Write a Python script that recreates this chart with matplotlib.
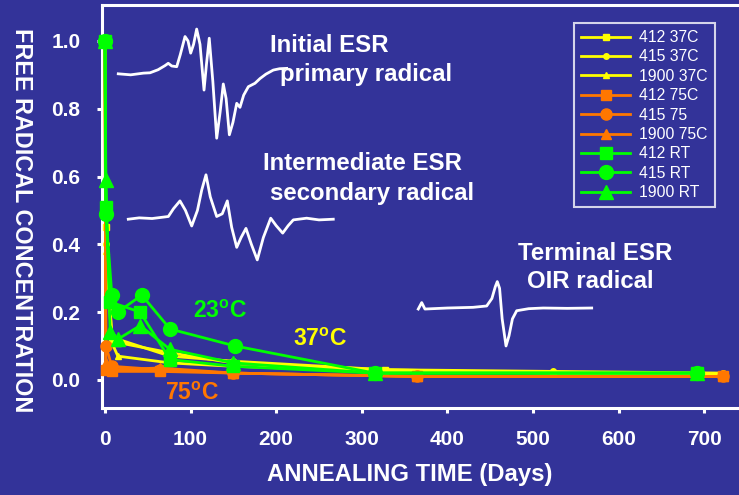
import matplotlib
matplotlib.use("Agg")
import matplotlib.pyplot as plt

# ---------------- data ----------------
days_37 = [0, 1, 8, 15, 76, 150, 327, 523, 722]
v_412_37 = [1.0, 0.45, 0.12, 0.11, 0.08, 0.05, 0.03, 0.02, 0.015]
v_415_37 = [1.0, 0.40, 0.13, 0.12, 0.07, 0.055, 0.03, 0.025, 0.02]
v_1900_37 = [1.0, 0.38, 0.11, 0.07, 0.05, 0.04, 0.025, 0.02, 0.015]

days_75 = [0, 1, 8, 64, 150, 364, 722]
v_412_75 = [1.0, 0.03, 0.025, 0.025, 0.02, 0.01, 0.01]
v_415_75 = [1.0, 0.10, 0.04, 0.03, 0.02, 0.01, 0.01]
v_1900_75 = [1.0, 0.05, 0.03, 0.035, 0.02, 0.01, 0.01]

days_412_rt = [0, 1, 6, 41, 76, 150, 315, 692]
v_412_rt = [1.0, 0.51, 0.23, 0.20, 0.06, 0.04, 0.02, 0.02]
days_415_rt = [0, 1, 8, 15, 43, 76, 152, 315, 692]
v_415_rt = [1.0, 0.49, 0.25, 0.20, 0.25, 0.15, 0.10, 0.02, 0.02]
days_1900_rt = [0, 1, 6, 15, 41, 76, 150, 315, 692]
v_1900_rt = [1.0, 0.59, 0.14, 0.12, 0.16, 0.09, 0.05, 0.02, 0.02]

labels = ["412 37C", "415 37C", "1900 37C",
          "412 75C", "415 75", "1900 75C",
          "412 RT", "415 RT", "1900 RT"]

x_ticks = [0, 100, 200, 300, 400, 500, 600, 700]
y_ticks = [0.0, 0.2, 0.4, 0.6, 0.8, 1.0]
y_ticklabels = ["0.0", "0.2", "0.4", "0.6", "0.8", "1.0"]

# ESR spectrum sketches (days, concentration units)
esr1_x = [15.5, 30.0, 45.0, 52.6, 62.0, 70.0, 73.9, 78.0, 83.8, 88.0, 93.5, 97.0, 100.1,
          103.5, 107.1, 111.0, 115.7, 118.5, 121.8, 126.0, 130.5, 134.5, 138.2,
          141.5, 145.3, 149.5, 153.9, 157.7, 162.0, 167.5, 175.2, 181.1, 188.0,
          196.6, 204.0, 212.3]
esr1_y = [0.903, 0.900, 0.905, 0.906, 0.915, 0.927, 0.934, 0.926, 0.924, 0.960, 1.013,
          1.000, 0.964, 0.990, 1.035, 0.990, 0.855, 0.930, 1.008, 0.880, 0.713,
          0.790, 0.873, 0.830, 0.723, 0.760, 0.816, 0.804, 0.840, 0.865, 0.875,
          0.889, 0.902, 0.914, 0.918, 0.919]
esr2_x = [27.2, 40.0, 55.0, 74.0, 80.0, 87.6, 94.0, 101.3, 108.0, 113.0, 118.0, 123.0,
          130.5, 137.0, 142.9, 148.0, 153.9, 159.0, 164.7, 171.0, 177.9, 185.0,
          193.6, 200.0, 207.6, 214.0, 220.0, 235.6, 250.0, 266.7]
esr2_y = [0.474, 0.478, 0.476, 0.482, 0.505, 0.528, 0.500, 0.454, 0.500, 0.560,
          0.605, 0.540, 0.482, 0.490, 0.528, 0.450, 0.391, 0.420, 0.447, 0.400,
          0.354, 0.420, 0.477, 0.455, 0.433, 0.455, 0.472, 0.477, 0.472, 0.474]
esr3_x = [366.0, 370.0, 373.8, 400.0, 430.0, 445.9, 452.0, 456.0, 458.3, 461.0, 464.0,
          468.5, 472.0, 476.0, 481.0, 495.0, 512.0, 540.0, 568.6]
esr3_y = [0.209, 0.228, 0.209, 0.212, 0.214, 0.218, 0.240, 0.275, 0.290, 0.270, 0.180,
          0.100, 0.130, 0.180, 0.204, 0.210, 0.212, 0.211, 0.212]

# ---------------- style ----------------
BG = "#333399"
YEL = "#ffff00"
ORA = "#ff7700"
GRN = "#00ff00"
W = "white"

plt.rcParams['font.family'] = ['Liberation Sans', 'DejaVu Sans']
plt.rcParams['mathtext.fontset'] = 'custom'
plt.rcParams['mathtext.rm'] = 'Liberation Sans'
plt.rcParams['mathtext.bf'] = 'Liberation Sans:bold'

fig = plt.figure(figsize=(7.39, 4.95), dpi=100, facecolor=BG)
ax = fig.add_axes([102/739, 1 - 408/495, 1 - 102/739, (408 - 5)/495])
ax.set_facecolor(BG)

ax.set_xlim(-3.5, 740.7)
ax.set_ylim(-0.083, 1.106)

# spectra
for sx, sy in [(esr1_x, esr1_y), (esr2_x, esr2_y), (esr3_x, esr3_y)]:
    ax.plot(sx, sy, color=W, lw=2.0, zorder=2, solid_joinstyle='round')

lw = 2.0
series = [
    (days_37, v_412_37, YEL, 's', 3.8),
    (days_37, v_415_37, YEL, 'o', 4.0),
    (days_37, v_1900_37, YEL, '^', 4.0),
    (days_75, v_412_75, ORA, 's', 7.2),
    (days_75, v_415_75, ORA, 'o', 8.0),
    (days_75, v_1900_75, ORA, '^', 7.5),
    (days_412_rt, v_412_rt, GRN, 's', 9.0),
    (days_415_rt, v_415_rt, GRN, 'o', 10.0),
    (days_1900_rt, v_1900_rt, GRN, '^', 10.0),
]
for (dx, dy, c, m, ms), lab in zip(series, labels):
    ax.plot(dx, dy, color=c, marker=m, ms=ms, lw=lw, mec=c, mfc=c,
            label=lab, zorder=3, clip_on=False)

# axes styling
for s in ['left', 'bottom', 'top']:
    ax.spines[s].set_color(W)
    ax.spines[s].set_linewidth(2.2)
ax.spines['right'].set_visible(False)
ax.set_xticks(x_ticks)
ax.set_yticks(y_ticks)
ax.set_yticklabels(y_ticklabels)
ax.tick_params(axis='both', colors=W, direction='out', length=3.5, width=2.2,
               labelsize=15, pad=12)
for t in ax.get_xticklabels() + ax.get_yticklabels():
    t.set_fontweight('bold')
    t.set_color(W)

fig.text(410/739, 1 - 475/495, "ANNEALING TIME (Days)", color=W, fontsize=17.2,
         fontweight='bold', ha='center', va='center')
fig.text(21/739, 1 - 220/495, "FREE RADICAL CONCENTRATION", color=W, fontsize=16.8,
         fontweight='bold', ha='center', va='center', rotation=270)

# annotations
def ftxt(x, y, s, c=W, fs=17.3):
    fig.text(x/739, 1 - y/495, s, color=c, fontsize=fs, fontweight='bold',
             ha='left', va='center')

ftxt(270, 45, "Initial ESR")
ftxt(280, 74, "primary radical")
ftxt(263, 163, "Intermediate ESR")
ftxt(270, 193, "secondary radical")
ftxt(518, 253, "Terminal ESR")
ftxt(527, 281, "OIR radical")
ftxt(193, 311, r"$\mathbf{23^{o}C}$", GRN, 16.5)
ftxt(293, 339, r"$\mathbf{37^{o}C}$", YEL, 16.5)
ftxt(165, 393, r"$\mathbf{75^{o}C}$", ORA, 16.5)

leg = ax.legend(loc='upper right', bbox_to_anchor=(715/739, 1 - 23/495),
                bbox_transform=fig.transFigure, frameon=True, fancybox=False,
                facecolor=BG, edgecolor=W, fontsize=11.3, handlelength=3.1,
                handletextpad=0.6, labelspacing=0.28, borderpad=0.45,
                borderaxespad=0)
leg.get_frame().set_linewidth(1.5)
for t in leg.get_texts():
    t.set_color(W)

fig.savefig("out.png", dpi=100, facecolor=BG)
